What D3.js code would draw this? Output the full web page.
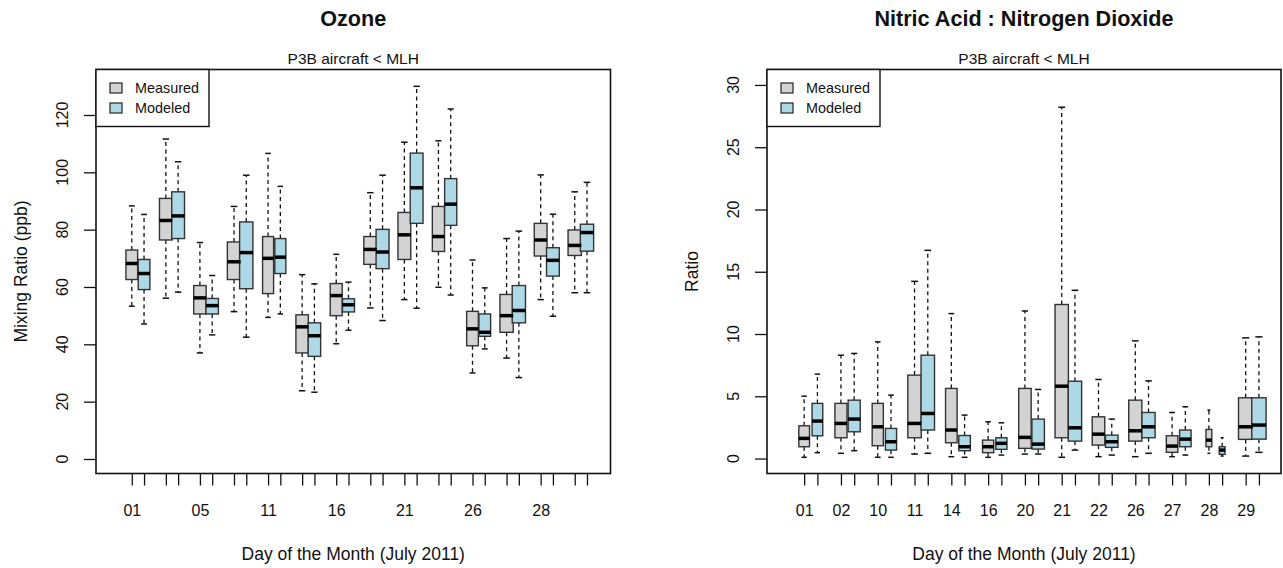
<!DOCTYPE html>
<html>
<head>
<meta charset="utf-8">
<script src="https://cdn.jsdelivr.net/npm/d3@7"></script>
<style>
  html, body { margin: 0; padding: 0; background: #fff; }
  svg { display: block; font-family: "Liberation Sans", Arial, Helvetica, sans-serif; }
</style>
</head>
<body>
<svg id="chart" width="1283" height="568"></svg>
<script>
// ---- Ozone (ppb): five-number summaries [lower whisker, Q1, median, Q3, upper whisker]
const ozoneDays = ["01", "02", "05", "10", "11", "14", "16", "20", "21", "22", "26", "27", "28", "29"];
const ozoneTickLabels = ["01", "", "05", "", "11", "", "16", "", "21", "", "26", "", "28", ""];
const ozoneMeasured = [
  [53.3, 62.6, 68.2, 72.9, 88.3],
  [56.1, 76.4, 83.2, 90.9, 111.6],
  [37.0, 50.6, 56.2, 60.5, 75.5],
  [51.4, 62.6, 68.8, 75.7, 88.1],
  [49.4, 57.7, 70.0, 77.6, 106.6],
  [23.8, 37.0, 46.1, 50.3, 64.3],
  [40.2, 50.0, 57.0, 61.2, 71.4],
  [52.7, 67.9, 73.1, 77.6, 92.9],
  [55.6, 69.6, 78.2, 86.0, 110.5],
  [59.9, 72.4, 77.6, 88.1, 111.0],
  [30.0, 39.5, 45.4, 51.5, 69.4],
  [35.2, 44.2, 50.0, 57.4, 76.9],
  [55.6, 70.8, 76.4, 82.2, 99.1],
  [58.0, 71.0, 74.5, 79.9, 93.2]
];
const ozoneModeled = [
  [47.1, 59.1, 64.7, 69.6, 85.3],
  [58.2, 76.9, 84.8, 93.2, 103.7],
  [43.3, 50.6, 53.5, 56.0, 64.0],
  [42.5, 59.4, 72.0, 82.7, 99.0],
  [50.6, 64.7, 70.4, 76.9, 95.1],
  [23.3, 35.8, 43.0, 47.5, 61.1],
  [44.9, 51.3, 53.8, 55.9, 61.7],
  [48.3, 66.4, 72.2, 80.1, 99.0],
  [52.6, 82.2, 94.6, 106.7, 130.0],
  [57.2, 81.5, 88.9, 97.8, 122.1],
  [38.4, 42.8, 44.2, 50.6, 59.7],
  [28.4, 47.5, 51.8, 60.5, 79.5],
  [49.8, 63.8, 69.3, 73.7, 85.4],
  [58.0, 72.5, 79.0, 81.9, 96.5]
];
// samples per flight day (box widths scale with sqrt(n))
const ozoneCounts = [116, 139, 132, 150, 103, 132, 122, 143, 139, 126, 116, 150, 139, 150];
const ozoneYTicks = [0, 20, 40, 60, 80, 100, 120];

// ---- HNO3 : NO2 ratio
const ratioDays = ["01", "02", "10", "11", "14", "16", "20", "21", "22", "26", "27", "28", "29"];
const ratioTickLabels = ["01", "02", "10", "11", "14", "16", "20", "21", "22", "26", "27", "28", "29"];
const ratioMeasured = [
  [0.10, 0.95, 1.62, 2.63, 5.01],
  [0.42, 1.67, 2.82, 4.43, 8.30],
  [0.10, 1.03, 2.55, 4.43, 9.37],
  [0.36, 1.67, 2.82, 6.70, 14.23],
  [0.15, 1.27, 2.29, 5.63, 11.64],
  [0.10, 0.47, 0.95, 1.48, 2.95],
  [0.36, 0.82, 1.70, 5.63, 11.85],
  [0.10, 1.67, 5.81, 12.37, 28.21],
  [0.15, 1.08, 1.96, 3.35, 6.35],
  [0.15, 1.40, 2.23, 4.69, 9.45],
  [0.15, 0.50, 1.00, 1.83, 3.70],
  [0.42, 0.95, 1.48, 2.34, 3.89],
  [0.20, 1.54, 2.55, 4.88, 9.69]
];
const ratioModeled = [
  [0.47, 1.83, 3.01, 4.43, 6.78],
  [0.63, 2.15, 3.17, 4.69, 8.44],
  [0.10, 0.68, 1.35, 2.42, 5.09],
  [0.42, 2.29, 3.62, 8.30, 16.72],
  [0.10, 0.63, 0.95, 1.85, 3.49],
  [0.28, 0.74, 1.22, 1.67, 2.87],
  [0.36, 0.76, 1.16, 3.17, 5.55],
  [0.68, 1.40, 2.47, 6.21, 13.51],
  [0.28, 0.90, 1.35, 1.88, 3.17],
  [0.42, 1.67, 2.55, 3.70, 6.24],
  [0.28, 0.95, 1.56, 2.29, 4.16],
  [0.20, 0.34, 0.68, 0.95, 1.67],
  [0.50, 1.56, 2.69, 4.88, 9.77]
];
const ratioCounts = [111, 142, 121, 176, 130, 121, 151, 173, 153, 168, 128, 33, 200];
const ratioYTicks = [0, 5, 10, 15, 20, 25, 30];

const seriesNames = ["Measured", "Modeled"];
const seriesFill = ["#d3d3d3", "#add8e6"];

const svg = d3.select("#chart");
const INK = "#111";

function drawPanel(p) {
  const g = svg.append("g");
  const n = p.days.length;

  const x = d3.scaleLinear().domain([-p.padL, n - 1 + p.padR]).range([p.left, p.right]);
  const y = d3.scaleLinear().domain(p.yDomain).range([p.bottom, p.top]);

  const shift = 0.36;      // modeled box sits just right of the measured one
  const boxwex = 0.39;     // widest box, in day-slot units
  const maxSqrt = Math.sqrt(d3.max(p.counts));
  const widthOf = i => (x(boxwex) - x(0)) * Math.sqrt(p.counts[i]) / maxSqrt;

  const boxes = [];
  p.days.forEach((d, i) => {
    boxes.push({ pos: i, stats: p.measured[i], w: widthOf(i), s: 0 });
    boxes.push({ pos: i + shift, stats: p.modeled[i], w: widthOf(i), s: 1 });
  });

  // whiskers
  const wg = g.append("g");
  boxes.forEach(b => {
    const cx = x(b.pos);
    const [lo, q1, med, q3, hi] = b.stats;
    wg.append("line").attr("x1", cx).attr("x2", cx).attr("y1", y(q3)).attr("y2", y(hi))
      .attr("stroke", INK).attr("stroke-width", 1.3).attr("stroke-dasharray", "4,3.5");
    wg.append("line").attr("x1", cx).attr("x2", cx).attr("y1", y(q1)).attr("y2", y(lo))
      .attr("stroke", INK).attr("stroke-width", 1.3).attr("stroke-dasharray", "4,3.5");
    [lo, hi].forEach(v => {
      wg.append("line").attr("x1", cx - b.w / 4).attr("x2", cx + b.w / 4)
        .attr("y1", y(v)).attr("y2", y(v))
        .attr("stroke", INK).attr("stroke-width", 1.5);
    });
  });

  // boxes
  g.append("g").selectAll("rect").data(boxes).join("rect")
    .attr("x", b => x(b.pos) - b.w / 2)
    .attr("width", b => b.w)
    .attr("y", b => y(b.stats[3]))
    .attr("height", b => y(b.stats[1]) - y(b.stats[3]))
    .attr("fill", b => seriesFill[b.s])
    .attr("stroke", "#333").attr("stroke-width", 1.4);

  // medians
  g.append("g").selectAll("line").data(boxes).join("line")
    .attr("x1", b => x(b.pos) - b.w / 2)
    .attr("x2", b => x(b.pos) + b.w / 2)
    .attr("y1", b => y(b.stats[2])).attr("y2", b => y(b.stats[2]))
    .attr("stroke", "#000").attr("stroke-width", 3.5);

  // bottom axis: a tick under every box, labels under measured boxes
  const tickPos = boxes.map(b => b.pos);
  const labelAt = new Map(p.days.map((d, i) => [i, p.tickLabels[i]]));
  const xAxis = d3.axisBottom(x).tickValues(tickPos).tickSize(12).tickPadding(19)
    .tickFormat(v => labelAt.has(v) ? labelAt.get(v) : "");
  const xa = g.append("g").attr("transform", `translate(0,${p.bottom})`).call(xAxis);
  xa.select(".domain").remove();
  xa.selectAll(".tick line").attr("stroke", INK).attr("stroke-width", 1.3);
  xa.selectAll(".tick text").attr("fill", INK).attr("font-size", 16)
    .attr("font-family", "Liberation Sans, Arial, sans-serif");

  // left axis with labels parallel to the axis
  const yAxis = d3.axisLeft(y).tickValues(p.yTicks).tickSize(12).tickFormat("");
  const ya = g.append("g").attr("transform", `translate(${p.left},0)`).call(yAxis);
  ya.select(".domain").remove();
  ya.selectAll(".tick line").attr("stroke", INK).attr("stroke-width", 1.3);
  g.append("g").selectAll("text").data(p.yTicks).join("text")
    .attr("transform", v => `translate(${p.left - 34},${y(v)}) rotate(-90)`)
    .attr("text-anchor", "middle").attr("dy", "0.35em")
    .attr("font-size", 16).attr("fill", INK)
    .text(v => v);

  // plot frame
  g.append("rect").attr("x", p.left).attr("y", p.top)
    .attr("width", p.right - p.left).attr("height", p.bottom - p.top)
    .attr("fill", "none").attr("stroke", INK).attr("stroke-width", 1.6);

  // legend
  const lg = g.append("g").attr("transform", `translate(${p.left},${p.top})`);
  lg.append("rect").attr("width", 113).attr("height", 57)
    .attr("fill", "#fff").attr("stroke", INK).attr("stroke-width", 1.4);
  seriesNames.forEach((name, i) => {
    const cy = 18.5 + i * 20;
    lg.append("rect").attr("x", 14).attr("y", cy - 5).attr("width", 12).attr("height", 10)
      .attr("fill", seriesFill[i]).attr("stroke", "#333").attr("stroke-width", 1.3);
    lg.append("text").attr("x", 39).attr("y", cy).attr("dy", "0.35em")
      .attr("font-size", 14.4).attr("fill", INK).text(name);
  });

  const cx = (p.left + p.right) / 2;
  g.append("text").attr("x", cx).attr("y", 26).attr("text-anchor", "middle")
    .attr("font-size", 21.6).attr("font-weight", "bold").attr("fill", INK).text(p.title);
  g.append("text").attr("x", cx).attr("y", 64).attr("text-anchor", "middle")
    .attr("font-size", 15.5).attr("fill", INK).text(p.subtitle);
  g.append("text").attr("x", cx).attr("y", 560).attr("text-anchor", "middle")
    .attr("font-size", 17.5).attr("fill", INK).text(p.xTitle);
  g.append("text")
    .attr("transform", `translate(${p.left - 75},${(p.top + p.bottom) / 2}) rotate(-90)`)
    .attr("text-anchor", "middle").attr("dy", "0.35em")
    .attr("font-size", 17.5).attr("fill", INK).text(p.yTitle);
}

drawPanel({
  left: 96, right: 610.5, top: 69.5, bottom: 473.5,
  padL: 1.05, padR: 1.05,
  yDomain: [-5.06, 135.87],
  days: ozoneDays, tickLabels: ozoneTickLabels,
  measured: ozoneMeasured, modeled: ozoneModeled, counts: ozoneCounts,
  yTicks: ozoneYTicks,
  title: "Ozone", subtitle: "P3B aircraft < MLH",
  xTitle: "Day of the Month (July 2011)", yTitle: "Mixing Ratio (ppb)"
});

drawPanel({
  left: 767, right: 1281, top: 69.5, bottom: 473.5,
  padL: 1.01, padR: 0.96,
  yDomain: [-1.2, 31.24],
  days: ratioDays, tickLabels: ratioTickLabels,
  measured: ratioMeasured, modeled: ratioModeled, counts: ratioCounts,
  yTicks: ratioYTicks,
  title: "Nitric Acid : Nitrogen Dioxide", subtitle: "P3B aircraft < MLH",
  xTitle: "Day of the Month (July 2011)", yTitle: "Ratio"
});
</script>
</body>
</html>
